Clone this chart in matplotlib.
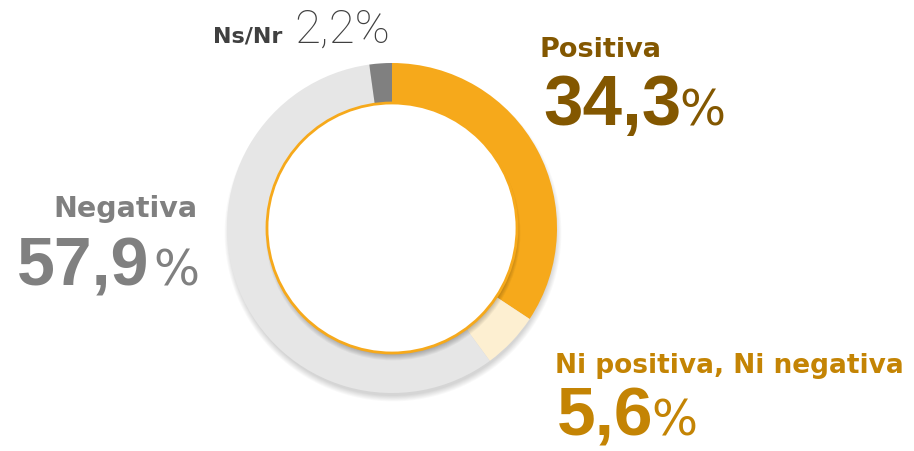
import matplotlib
matplotlib.use("Agg")
import matplotlib.pyplot as plt
from matplotlib.patches import Circle

# ---- data ----
categories = ["Positiva", "Ni positiva, Ni negativa", "Negativa", "Ns/Nr"]
values = [34.3, 5.6, 57.9, 2.2]
value_labels = ["34,3", "5,6", "57,9", "2,2"]
ring_colors = ["#F6A91B", "#FDEFD1", "#E6E6E6", "#808080"]
text_colors = ["#835700", "#C48404", "#808080", "#404040"]

W, H = 914, 451
fig = plt.figure(figsize=(W / 100, H / 100), dpi=100)
ax = fig.add_axes([0, 0, 1, 1])

cx, cy = 392, H - 228
R_out, R_in = 165, 125

# outer soft shadow (mostly below)
for i in range(7):
    ax.add_patch(Circle((cx + 1, cy - 5), R_out - 2 + i * 0.9, facecolor="#000000",
                        edgecolor="none", alpha=0.025, zorder=0))

ax.pie(values, colors=ring_colors, startangle=90, counterclock=False,
       radius=R_out, center=(cx, cy),
       wedgeprops=dict(width=R_out - 115, edgecolor="none", zorder=1))

# inner circle shadow (cast downward)
for i in range(7):
    ax.add_patch(Circle((cx + 1, cy - 5), R_in - 3 + i * 0.9, facecolor="#000000",
                        edgecolor="none", alpha=0.04, zorder=2))
ax.add_patch(Circle((cx, cy), R_in, facecolor="white", edgecolor="#F6A91B",
                    linewidth=2, zorder=3))

ax.set_xlim(0, W)
ax.set_ylim(0, H)
ax.set_aspect("equal")
ax.axis("off")

fig.canvas.draw()
renderer = fig.canvas.get_renderer()


def number_with_pct(x, y, num, color, size, pct_size, gap, ha="left"):
    t = ax.text(x, H - y, num, fontsize=size, fontweight="bold", color=color,
                family=["Liberation Sans", "DejaVu Sans"], ha="left", va="baseline")
    p = ax.text(0, H - y, "%", fontsize=pct_size, color=color,
                family=["DejaVu Sans"], ha="left", va="baseline")
    wt = t.get_window_extent(renderer).width
    wp = p.get_window_extent(renderer).width
    if ha == "right":
        x0 = x - wp - gap - wt
        t.set_x(x0)
    else:
        x0 = x
    p.set_x(x0 + wt + gap)


lab_family = ["DejaVu Sans"]

# Positiva
ax.text(540, H - 57, categories[0], fontsize=19.5, fontweight="bold",
        color=text_colors[0], family=lab_family, va="baseline")
number_with_pct(543, 125, value_labels[0], text_colors[0], 51, 35, -2)

# Ni positiva, Ni negativa
ax.text(555, H - 373, categories[1], fontsize=19, fontweight="bold",
        color=text_colors[1], family=lab_family, va="baseline")
number_with_pct(557, 435, value_labels[1], text_colors[1], 50, 35, -2)

# Negativa (right aligned)
ax.text(197, H - 217, categories[2], fontsize=20.5, fontweight="bold",
        color=text_colors[2], family=lab_family, va="baseline", ha="right")
number_with_pct(199, 285, value_labels[2], text_colors[2], 49, 35, 4, ha="right")

# Ns/Nr
ax.text(213, H - 43, categories[3], fontsize=16, fontweight="bold",
        color=text_colors[3], family=lab_family, va="baseline")
ax.text(294, H - 43, value_labels[3] + "%", fontsize=34, fontweight="light",
        color=text_colors[3], family=["Roboto", "DejaVu Sans"], va="baseline")

fig.savefig("out.png", dpi=100, facecolor="white")
